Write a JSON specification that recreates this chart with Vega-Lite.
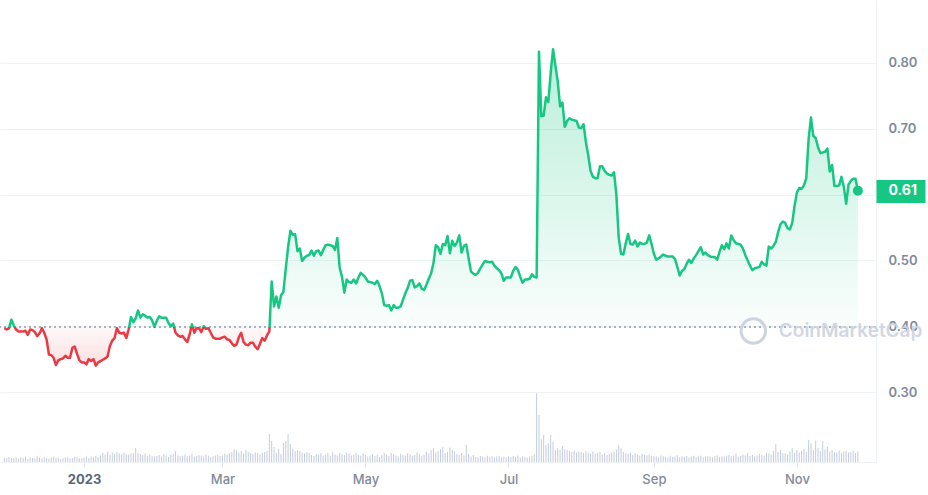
{
"$schema": "https://vega.github.io/schema/vega-lite/v6.json",
"width": 876, "height": 462,
"autosize": {"type": "none"},
"padding": {"left": 0, "top": 0, "right": 52, "bottom": 33},
"background": "white",
"config": {"view": {"stroke": null}, "font": "Inter"},
"data": {"format": {"parse": {"d": "date"}}, "values": [
{"d":"2022-11-28","p":0.397,"v":45},{"d":"2022-11-29","p":0.395,"v":40},{"d":"2022-11-30","p":0.397,"v":50},
{"d":"2022-12-01","p":0.410,"v":42},{"d":"2022-12-02","p":0.401,"v":38},{"d":"2022-12-03","p":0.395,"v":48},{"d":"2022-12-04","p":0.392,"v":35},{"d":"2022-12-05","p":0.392,"v":44},{"d":"2022-12-06","p":0.392,"v":40},{"d":"2022-12-07","p":0.393,"v":52},{"d":"2022-12-08","p":0.387,"v":30},{"d":"2022-12-09","p":0.395,"v":46},{"d":"2022-12-10","p":0.394,"v":41},{"d":"2022-12-11","p":0.391,"v":38},{"d":"2022-12-12","p":0.385,"v":55},{"d":"2022-12-13","p":0.389,"v":43},{"d":"2022-12-14","p":0.397,"v":36},{"d":"2022-12-15","p":0.390,"v":47},{"d":"2022-12-16","p":0.380,"v":40},{"d":"2022-12-17","p":0.357,"v":33},{"d":"2022-12-18","p":0.356,"v":45},{"d":"2022-12-19","p":0.352,"v":50},{"d":"2022-12-20","p":0.341,"v":39},{"d":"2022-12-21","p":0.348,"v":42},{"d":"2022-12-22","p":0.350,"v":30},{"d":"2022-12-23","p":0.351,"v":37},{"d":"2022-12-24","p":0.355,"v":44},{"d":"2022-12-25","p":0.352,"v":48},{"d":"2022-12-26","p":0.352,"v":35},{"d":"2022-12-27","p":0.367,"v":40},{"d":"2022-12-28","p":0.369,"v":52},{"d":"2022-12-29","p":0.358,"v":46},{"d":"2022-12-30","p":0.348,"v":38},{"d":"2022-12-31","p":0.345,"v":41},
{"d":"2023-01-01","p":0.345,"v":45},{"d":"2023-01-02","p":0.342,"v":52},{"d":"2023-01-03","p":0.350,"v":40},{"d":"2023-01-04","p":0.347,"v":55},{"d":"2023-01-05","p":0.350,"v":48},{"d":"2023-01-06","p":0.340,"v":60},{"d":"2023-01-07","p":0.345,"v":50},{"d":"2023-01-08","p":0.347,"v":65},{"d":"2023-01-09","p":0.349,"v":90},{"d":"2023-01-10","p":0.351,"v":75},{"d":"2023-01-11","p":0.354,"v":100},{"d":"2023-01-12","p":0.370,"v":70},{"d":"2023-01-13","p":0.378,"v":95},{"d":"2023-01-14","p":0.382,"v":80},{"d":"2023-01-15","p":0.397,"v":100},{"d":"2023-01-16","p":0.390,"v":85},{"d":"2023-01-17","p":0.389,"v":75},{"d":"2023-01-18","p":0.390,"v":95},{"d":"2023-01-19","p":0.382,"v":80},{"d":"2023-01-20","p":0.395,"v":72},{"d":"2023-01-21","p":0.414,"v":85},{"d":"2023-01-22","p":0.406,"v":90},{"d":"2023-01-23","p":0.412,"v":140},{"d":"2023-01-24","p":0.424,"v":90},{"d":"2023-01-25","p":0.413,"v":80},{"d":"2023-01-26","p":0.418,"v":70},{"d":"2023-01-27","p":0.416,"v":85},{"d":"2023-01-28","p":0.413,"v":60},{"d":"2023-01-29","p":0.414,"v":75},{"d":"2023-01-30","p":0.409,"v":62},{"d":"2023-01-31","p":0.399,"v":55},
{"d":"2023-02-01","p":0.408,"v":60},{"d":"2023-02-02","p":0.415,"v":70},{"d":"2023-02-03","p":0.413,"v":55},{"d":"2023-02-04","p":0.413,"v":78},{"d":"2023-02-05","p":0.413,"v":65},{"d":"2023-02-06","p":0.405,"v":50},{"d":"2023-02-07","p":0.400,"v":72},{"d":"2023-02-08","p":0.404,"v":80},{"d":"2023-02-09","p":0.390,"v":110},{"d":"2023-02-10","p":0.386,"v":68},{"d":"2023-02-11","p":0.384,"v":55},{"d":"2023-02-12","p":0.385,"v":62},{"d":"2023-02-13","p":0.380,"v":75},{"d":"2023-02-14","p":0.376,"v":58},{"d":"2023-02-15","p":0.387,"v":66},{"d":"2023-02-16","p":0.403,"v":80},{"d":"2023-02-17","p":0.390,"v":52},{"d":"2023-02-18","p":0.397,"v":60},{"d":"2023-02-19","p":0.397,"v":70},{"d":"2023-02-20","p":0.391,"v":64},{"d":"2023-02-21","p":0.400,"v":56},{"d":"2023-02-22","p":0.396,"v":78},{"d":"2023-02-23","p":0.397,"v":62},{"d":"2023-02-24","p":0.390,"v":50},{"d":"2023-02-25","p":0.383,"v":58},{"d":"2023-02-26","p":0.381,"v":66},{"d":"2023-02-27","p":0.381,"v":72},{"d":"2023-02-28","p":0.381,"v":60},
{"d":"2023-03-01","p":0.383,"v":65},{"d":"2023-03-02","p":0.384,"v":80},{"d":"2023-03-03","p":0.380,"v":72},{"d":"2023-03-04","p":0.379,"v":90},{"d":"2023-03-05","p":0.374,"v":100},{"d":"2023-03-06","p":0.370,"v":125},{"d":"2023-03-07","p":0.372,"v":118},{"d":"2023-03-08","p":0.383,"v":95},{"d":"2023-03-09","p":0.390,"v":110},{"d":"2023-03-10","p":0.376,"v":85},{"d":"2023-03-11","p":0.372,"v":120},{"d":"2023-03-12","p":0.371,"v":100},{"d":"2023-03-13","p":0.375,"v":90},{"d":"2023-03-14","p":0.375,"v":80},{"d":"2023-03-15","p":0.369,"v":95},{"d":"2023-03-16","p":0.365,"v":88},{"d":"2023-03-17","p":0.373,"v":75},{"d":"2023-03-18","p":0.382,"v":92},{"d":"2023-03-19","p":0.378,"v":100},{"d":"2023-03-20","p":0.386,"v":110},{"d":"2023-03-21","p":0.392,"v":277},{"d":"2023-03-22","p":0.468,"v":210},{"d":"2023-03-23","p":0.430,"v":150},{"d":"2023-03-24","p":0.445,"v":90},{"d":"2023-03-25","p":0.428,"v":130},{"d":"2023-03-26","p":0.447,"v":80},{"d":"2023-03-27","p":0.452,"v":190},{"d":"2023-03-28","p":0.487,"v":210},{"d":"2023-03-29","p":0.520,"v":280},{"d":"2023-03-30","p":0.545,"v":180},{"d":"2023-03-31","p":0.539,"v":130},
{"d":"2023-04-01","p":0.540,"v":110},{"d":"2023-04-02","p":0.514,"v":120},{"d":"2023-04-03","p":0.518,"v":110},{"d":"2023-04-04","p":0.499,"v":95},{"d":"2023-04-05","p":0.504,"v":85},{"d":"2023-04-06","p":0.507,"v":100},{"d":"2023-04-07","p":0.508,"v":90},{"d":"2023-04-08","p":0.515,"v":70},{"d":"2023-04-09","p":0.507,"v":60},{"d":"2023-04-10","p":0.514,"v":80},{"d":"2023-04-11","p":0.515,"v":75},{"d":"2023-04-12","p":0.508,"v":90},{"d":"2023-04-13","p":0.516,"v":62},{"d":"2023-04-14","p":0.523,"v":70},{"d":"2023-04-15","p":0.524,"v":85},{"d":"2023-04-16","p":0.523,"v":60},{"d":"2023-04-17","p":0.522,"v":100},{"d":"2023-04-18","p":0.516,"v":75},{"d":"2023-04-19","p":0.534,"v":65},{"d":"2023-04-20","p":0.489,"v":90},{"d":"2023-04-21","p":0.475,"v":80},{"d":"2023-04-22","p":0.451,"v":70},{"d":"2023-04-23","p":0.471,"v":95},{"d":"2023-04-24","p":0.467,"v":85},{"d":"2023-04-25","p":0.466,"v":65},{"d":"2023-04-26","p":0.471,"v":75},{"d":"2023-04-27","p":0.465,"v":90},{"d":"2023-04-28","p":0.474,"v":70},{"d":"2023-04-29","p":0.481,"v":60},{"d":"2023-04-30","p":0.478,"v":85},
{"d":"2023-05-01","p":0.474,"v":70},{"d":"2023-05-02","p":0.468,"v":55},{"d":"2023-05-03","p":0.467,"v":65},{"d":"2023-05-04","p":0.466,"v":80},{"d":"2023-05-05","p":0.464,"v":60},{"d":"2023-05-06","p":0.469,"v":75},{"d":"2023-05-07","p":0.461,"v":50},{"d":"2023-05-08","p":0.450,"v":68},{"d":"2023-05-09","p":0.432,"v":85},{"d":"2023-05-10","p":0.431,"v":72},{"d":"2023-05-11","p":0.432,"v":60},{"d":"2023-05-12","p":0.424,"v":90},{"d":"2023-05-13","p":0.432,"v":78},{"d":"2023-05-14","p":0.428,"v":65},{"d":"2023-05-15","p":0.428,"v":55},{"d":"2023-05-16","p":0.430,"v":82},{"d":"2023-05-17","p":0.440,"v":70},{"d":"2023-05-18","p":0.450,"v":60},{"d":"2023-05-19","p":0.458,"v":88},{"d":"2023-05-20","p":0.469,"v":75},{"d":"2023-05-21","p":0.470,"v":62},{"d":"2023-05-22","p":0.459,"v":70},{"d":"2023-05-23","p":0.461,"v":95},{"d":"2023-05-24","p":0.465,"v":80},{"d":"2023-05-25","p":0.457,"v":65},{"d":"2023-05-26","p":0.455,"v":72},{"d":"2023-05-27","p":0.463,"v":100},{"d":"2023-05-28","p":0.472,"v":85},{"d":"2023-05-29","p":0.480,"v":120},{"d":"2023-05-30","p":0.496,"v":140},{"d":"2023-05-31","p":0.523,"v":95},
{"d":"2023-06-01","p":0.520,"v":110},{"d":"2023-06-02","p":0.510,"v":130},{"d":"2023-06-03","p":0.525,"v":150},{"d":"2023-06-04","p":0.523,"v":90},{"d":"2023-06-05","p":0.537,"v":100},{"d":"2023-06-06","p":0.511,"v":145},{"d":"2023-06-07","p":0.530,"v":120},{"d":"2023-06-08","p":0.522,"v":105},{"d":"2023-06-09","p":0.527,"v":80},{"d":"2023-06-10","p":0.538,"v":70},{"d":"2023-06-11","p":0.512,"v":90},{"d":"2023-06-12","p":0.522,"v":65},{"d":"2023-06-13","p":0.524,"v":170},{"d":"2023-06-14","p":0.503,"v":80},{"d":"2023-06-15","p":0.483,"v":55},{"d":"2023-06-16","p":0.480,"v":70},{"d":"2023-06-17","p":0.478,"v":50},{"d":"2023-06-18","p":0.481,"v":45},{"d":"2023-06-19","p":0.488,"v":60},{"d":"2023-06-20","p":0.494,"v":55},{"d":"2023-06-21","p":0.499,"v":48},{"d":"2023-06-22","p":0.498,"v":62},{"d":"2023-06-23","p":0.497,"v":50},{"d":"2023-06-24","p":0.498,"v":58},{"d":"2023-06-25","p":0.492,"v":45},{"d":"2023-06-26","p":0.488,"v":55},{"d":"2023-06-27","p":0.485,"v":60},{"d":"2023-06-28","p":0.480,"v":48},{"d":"2023-06-29","p":0.469,"v":52},{"d":"2023-06-30","p":0.474,"v":45},
{"d":"2023-07-01","p":0.474,"v":55},{"d":"2023-07-02","p":0.474,"v":48},{"d":"2023-07-03","p":0.484,"v":60},{"d":"2023-07-04","p":0.490,"v":52},{"d":"2023-07-05","p":0.486,"v":65},{"d":"2023-07-06","p":0.475,"v":45},{"d":"2023-07-07","p":0.466,"v":58},{"d":"2023-07-08","p":0.471,"v":50},{"d":"2023-07-09","p":0.471,"v":42},{"d":"2023-07-10","p":0.472,"v":55},{"d":"2023-07-11","p":0.479,"v":62},{"d":"2023-07-12","p":0.475,"v":75},{"d":"2023-07-13","p":0.474,"v":687},{"d":"2023-07-14","p":0.817,"v":470},{"d":"2023-07-15","p":0.719,"v":227},{"d":"2023-07-16","p":0.720,"v":270},{"d":"2023-07-17","p":0.748,"v":170},{"d":"2023-07-18","p":0.741,"v":187},{"d":"2023-07-19","p":0.785,"v":270},{"d":"2023-07-20","p":0.821,"v":200},{"d":"2023-07-21","p":0.796,"v":120},{"d":"2023-07-22","p":0.772,"v":137},{"d":"2023-07-23","p":0.734,"v":120},{"d":"2023-07-24","p":0.740,"v":160},{"d":"2023-07-25","p":0.703,"v":127},{"d":"2023-07-26","p":0.712,"v":120},{"d":"2023-07-27","p":0.716,"v":110},{"d":"2023-07-28","p":0.714,"v":100},{"d":"2023-07-29","p":0.713,"v":115},{"d":"2023-07-30","p":0.712,"v":95},{"d":"2023-07-31","p":0.702,"v":105},
{"d":"2023-08-01","p":0.701,"v":100},{"d":"2023-08-02","p":0.707,"v":90},{"d":"2023-08-03","p":0.680,"v":110},{"d":"2023-08-04","p":0.660,"v":95},{"d":"2023-08-05","p":0.636,"v":85},{"d":"2023-08-06","p":0.627,"v":105},{"d":"2023-08-07","p":0.625,"v":80},{"d":"2023-08-08","p":0.625,"v":90},{"d":"2023-08-09","p":0.643,"v":100},{"d":"2023-08-10","p":0.643,"v":75},{"d":"2023-08-11","p":0.636,"v":85},{"d":"2023-08-12","p":0.632,"v":70},{"d":"2023-08-13","p":0.630,"v":80},{"d":"2023-08-14","p":0.629,"v":95},{"d":"2023-08-15","p":0.634,"v":105},{"d":"2023-08-16","p":0.600,"v":125},{"d":"2023-08-17","p":0.535,"v":170},{"d":"2023-08-18","p":0.510,"v":140},{"d":"2023-08-19","p":0.509,"v":100},{"d":"2023-08-20","p":0.526,"v":90},{"d":"2023-08-21","p":0.540,"v":80},{"d":"2023-08-22","p":0.525,"v":95},{"d":"2023-08-23","p":0.524,"v":70},{"d":"2023-08-24","p":0.530,"v":85},{"d":"2023-08-25","p":0.521,"v":75},{"d":"2023-08-26","p":0.527,"v":65},{"d":"2023-08-27","p":0.525,"v":80},{"d":"2023-08-28","p":0.525,"v":72},{"d":"2023-08-29","p":0.527,"v":68},{"d":"2023-08-30","p":0.538,"v":75},{"d":"2023-08-31","p":0.525,"v":62},
{"d":"2023-09-01","p":0.510,"v":60},{"d":"2023-09-02","p":0.501,"v":55},{"d":"2023-09-03","p":0.503,"v":48},{"d":"2023-09-04","p":0.506,"v":65},{"d":"2023-09-05","p":0.509,"v":58},{"d":"2023-09-06","p":0.507,"v":52},{"d":"2023-09-07","p":0.506,"v":45},{"d":"2023-09-08","p":0.506,"v":62},{"d":"2023-09-09","p":0.506,"v":50},{"d":"2023-09-10","p":0.502,"v":55},{"d":"2023-09-11","p":0.490,"v":68},{"d":"2023-09-12","p":0.477,"v":48},{"d":"2023-09-13","p":0.484,"v":58},{"d":"2023-09-14","p":0.487,"v":52},{"d":"2023-09-15","p":0.495,"v":60},{"d":"2023-09-16","p":0.501,"v":45},{"d":"2023-09-17","p":0.496,"v":55},{"d":"2023-09-18","p":0.503,"v":62},{"d":"2023-09-19","p":0.508,"v":50},{"d":"2023-09-20","p":0.514,"v":58},{"d":"2023-09-21","p":0.520,"v":66},{"d":"2023-09-22","p":0.509,"v":48},{"d":"2023-09-23","p":0.512,"v":55},{"d":"2023-09-24","p":0.508,"v":60},{"d":"2023-09-25","p":0.506,"v":52},{"d":"2023-09-26","p":0.505,"v":45},{"d":"2023-09-27","p":0.505,"v":58},{"d":"2023-09-28","p":0.501,"v":64},{"d":"2023-09-29","p":0.513,"v":50},{"d":"2023-09-30","p":0.523,"v":55},
{"d":"2023-10-01","p":0.517,"v":55},{"d":"2023-10-02","p":0.526,"v":62},{"d":"2023-10-03","p":0.518,"v":70},{"d":"2023-10-04","p":0.538,"v":58},{"d":"2023-10-05","p":0.531,"v":65},{"d":"2023-10-06","p":0.526,"v":80},{"d":"2023-10-07","p":0.525,"v":52},{"d":"2023-10-08","p":0.524,"v":60},{"d":"2023-10-09","p":0.518,"v":75},{"d":"2023-10-10","p":0.508,"v":68},{"d":"2023-10-11","p":0.500,"v":90},{"d":"2023-10-12","p":0.492,"v":60},{"d":"2023-10-13","p":0.485,"v":72},{"d":"2023-10-14","p":0.488,"v":55},{"d":"2023-10-15","p":0.489,"v":66},{"d":"2023-10-16","p":0.490,"v":80},{"d":"2023-10-17","p":0.498,"v":70},{"d":"2023-10-18","p":0.494,"v":62},{"d":"2023-10-19","p":0.492,"v":95},{"d":"2023-10-20","p":0.521,"v":85},{"d":"2023-10-21","p":0.518,"v":75},{"d":"2023-10-22","p":0.522,"v":110},{"d":"2023-10-23","p":0.528,"v":177},{"d":"2023-10-24","p":0.543,"v":100},{"d":"2023-10-25","p":0.555,"v":120},{"d":"2023-10-26","p":0.559,"v":90},{"d":"2023-10-27","p":0.557,"v":85},{"d":"2023-10-28","p":0.549,"v":75},{"d":"2023-10-29","p":0.547,"v":105},{"d":"2023-10-30","p":0.557,"v":137},{"d":"2023-10-31","p":0.583,"v":90},
{"d":"2023-11-01","p":0.603,"v":120},{"d":"2023-11-02","p":0.610,"v":95},{"d":"2023-11-03","p":0.609,"v":110},{"d":"2023-11-04","p":0.614,"v":130},{"d":"2023-11-05","p":0.625,"v":100},{"d":"2023-11-06","p":0.685,"v":220},{"d":"2023-11-07","p":0.717,"v":187},{"d":"2023-11-08","p":0.689,"v":120},{"d":"2023-11-09","p":0.686,"v":213},{"d":"2023-11-10","p":0.672,"v":137},{"d":"2023-11-11","p":0.663,"v":110},{"d":"2023-11-12","p":0.664,"v":210},{"d":"2023-11-13","p":0.665,"v":125},{"d":"2023-11-14","p":0.670,"v":150},{"d":"2023-11-15","p":0.635,"v":105},{"d":"2023-11-16","p":0.645,"v":120},{"d":"2023-11-17","p":0.613,"v":100},{"d":"2023-11-18","p":0.613,"v":95},{"d":"2023-11-19","p":0.614,"v":115},{"d":"2023-11-20","p":0.627,"v":90},{"d":"2023-11-21","p":0.612,"v":105},{"d":"2023-11-22","p":0.586,"v":110},{"d":"2023-11-23","p":0.615,"v":95},{"d":"2023-11-24","p":0.621,"v":100},{"d":"2023-11-25","p":0.624,"v":112},{"d":"2023-11-26","p":0.624,"v":90},{"d":"2023-11-27","p":0.606,"v":105}
]},
"encoding": {
  "x": {"field": "d", "type": "temporal",
    "scale": {"type": "utc", "domain": [{"year": 2022, "month": 11, "date": 28, "hours": 6, "minutes": 30, "utc": true}, {"year": 2023, "month": 12, "date": 2, "hours": 14, "minutes": 24, "utc": true}]},
    "axis": {"title": null, "grid": false,
      "values": [{"year": 2023, "month": 1, "date": 1, "utc": true}, {"year": 2023, "month": 3, "date": 1, "utc": true}, {"year": 2023, "month": 5, "date": 1, "utc": true}, {"year": 2023, "month": 7, "date": 1, "utc": true}, {"year": 2023, "month": 9, "date": 1, "utc": true}, {"year": 2023, "month": 11, "date": 1, "utc": true}],
      "labelExpr": "utcmonth(datum.value) == 0 ? utcFormat(datum.value, '%Y') : utcFormat(datum.value, '%b')",
      "labelFont": "Inter", "labelFontSize": 13,
      "labelFontWeight": {"condition": {"test": "utcmonth(datum.value) == 0", "value": 700}, "value": 500},
      "labelColor": {"condition": {"test": "utcmonth(datum.value) == 0", "value": "#58667e"}, "value": "#808a9d"},
      "domainColor": "#eff2f5", "tickColor": "#dfe3ea", "tickSize": 5, "labelPadding": 6}
  }
},
"layer": [
  {"mark": {"type": "bar", "width": 1, "color": "#c3cbdd"},
   "encoding": {"y": {"field": "v", "type": "quantitative", "scale": {"domain": [0, 4620], "nice": false, "zero": true}, "axis": null}}},
  {"layer": [
    {"mark": {"type": "area", "clip": true, "line": false,
       "color": {"gradient": "linear", "x1": 0, "y1": 0, "x2": 0, "y2": 1, "stops": [{"offset": 0, "color": "rgba(22,199,132,0.30)"}, {"offset": 0.8784, "color": "rgba(22,199,132,0.02)"}, {"offset": 0.8784, "color": "rgba(234,57,67,0.03)"}, {"offset": 1, "color": "rgba(234,57,67,0.16)"}]}},
     "encoding": {
       "y": {"field": "p", "type": "quantitative", "scale": {"domain": [0.19362, 0.89574], "nice": false, "zero": false},
         "axis": {"orient": "right", "title": null, "values": [0.3, 0.4, 0.5, 0.6, 0.7, 0.8],
           "labelExpr": "datum.value > 0.59 && datum.value < 0.61 ? '' : format(datum.value, '.2f')",
           "grid": true, "gridColor": "#eff2f5", "ticks": false, "domain": true, "domainColor": "#eff2f5",
           "labelPadding": 12, "labelColor": "#808a9d", "labelFontSize": 13, "labelFontWeight": 600, "labelFont": "Inter"}},
       "y2": {"datum": 0.3985}}},
    {"mark": {"type": "rule", "color": "#a9b2c3", "strokeWidth": 1, "strokeDash": [1.5, 3.5]},
     "encoding": {"y": {"datum": 0.3985, "type": "quantitative", "scale": {"domain": [0.19362, 0.89574], "nice": false, "zero": false}, "axis": null}, "x": null}},
    {"mark": {"type": "line", "clip": true, "strokeWidth": 2.5, "strokeJoin": "round",
       "color": {"gradient": "linear", "x1": 0, "y1": 0, "x2": 0, "y2": 1, "stops": [{"offset": 0, "color": "#16c784"}, {"offset": 0.8784, "color": "#16c784"}, {"offset": 0.8784, "color": "#ea3943"}, {"offset": 1, "color": "#ea3943"}]}},
     "encoding": {"y": {"field": "p", "type": "quantitative", "scale": {"domain": [0.19362, 0.89574], "nice": false, "zero": false}, "axis": null}}},
    {"transform": [{"filter": "utcyear(datum.d) == 2023 && utcmonth(datum.d) == 10 && utcdate(datum.d) == 27"}],
     "mark": {"type": "circle", "size": 100, "color": "#16c784", "opacity": 1},
     "encoding": {"y": {"field": "p", "type": "quantitative", "scale": {"domain": [0.19362, 0.89574], "nice": false, "zero": false},
        "axis": {"orient": "right", "title": null, "values": [0.606], "format": ".2f", "grid": false, "domain": false,
          "ticks": true, "tickSize": 49, "tickWidth": 23, "tickColor": "#16c784", "tickCap": "butt",
          "labelColor": "white", "labelFontWeight": 700, "labelFontSize": 14, "labelFont": "Inter", "labelPadding": -37, "labelAlign": "left"}}}},
    {"data": {"format": {"parse": {"d": "date"}}, "values": [{"d": "2023-10-13T10:00:00Z", "p": 0.3927}]},
     "mark": {"type": "point", "shape": "circle", "filled": false, "size": 600, "strokeWidth": 3, "color": "#cdd3e0", "opacity": 1},
     "encoding": {"y": {"field": "p", "type": "quantitative", "scale": {"domain": [0.19362, 0.89574], "nice": false, "zero": false}, "axis": null}}},
    {"data": {"format": {"parse": {"d": "date"}}, "values": [{"d": "2023-10-24T07:00:00Z", "p": 0.3927, "label": "CoinMarketCap"}]},
     "mark": {"type": "text", "align": "left", "baseline": "middle", "font": "Inter", "fontSize": 19, "fontWeight": 600, "color": "#cdd3e0", "opacity": 0.9},
     "encoding": {"text": {"field": "label", "type": "nominal"},
       "y": {"field": "p", "type": "quantitative", "scale": {"domain": [0.19362, 0.89574], "nice": false, "zero": false}, "axis": null}}}
  ],
  "resolve": {"axis": {"y": "independent"}}}
],
"resolve": {"scale": {"y": "independent"}}
}
